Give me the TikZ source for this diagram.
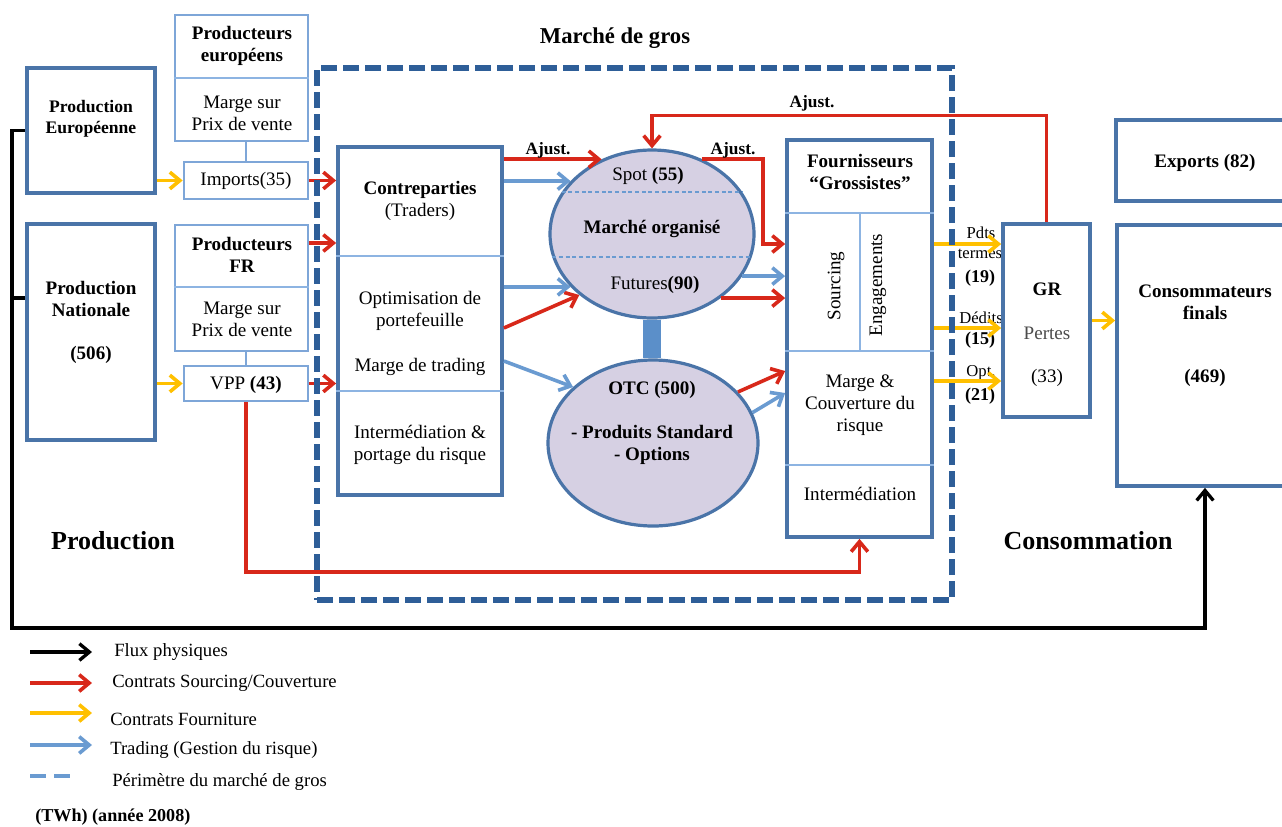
\documentclass[tikz,border=0pt]{standalone}
\usepackage{fontspec}
\setmainfont{Liberation Serif}
\usetikzlibrary{arrows.meta,shapes.geometric,fit,calc}
\newcommand{\fsz}[2]{\fontsize{#1}{#2}\selectfont}
\definecolor{bx}{HTML}{4A74A8}
\definecolor{lbx}{HTML}{7EA6D8}
\definecolor{dv}{HTML}{8DB4E2}
\definecolor{rd}{HTML}{D8281A}
\definecolor{yl}{HTML}{FFC000}
\definecolor{bl}{HTML}{6A9BD1}
\definecolor{pr}{HTML}{2E5E98}
\definecolor{lav}{HTML}{D6D0E3}
\definecolor{barc}{HTML}{5B8FC9}
\begin{document}
\begin{tikzpicture}[x=0.75pt,y=-0.75pt,
  box/.style={draw=bx, line width=2.8pt, fill=white, inner sep=0pt},
  lbox/.style={draw=lbx, line width=2pt, fill=white, inner sep=0pt},
  divl/.style={draw=dv, line width=1.4pt},
  lconn/.style={draw=lbx, line width=1.6pt},
  ell/.style={ellipse, draw=bx, line width=2.4pt, fill=lav, inner sep=0pt},
  perim/.style={draw=pr, line width=3.8pt, dash pattern=on 12pt off 4.5pt, inner sep=0pt},
  dotl/.style={draw=bl, line width=0.9pt, densely dashed},
  tip/.style={-{Straight Barb[length=7.5pt,width=12.5pt]}},
  redarr/.style={draw=rd, line width=2.7pt, tip},
  bluearr/.style={draw=bl, line width=2.7pt, tip},
  yelarr/.style={draw=yl, line width=2.7pt, tip},
  blkarr/.style={draw=black, line width=2.5pt, tip},
  blkline/.style={draw=black, line width=2.5pt},
  tx/.style={font=\fsz{14.3}{16.5}, inner sep=0pt, align=center, text=black},
  txb/.style={font=\fsz{14.3}{16.5}\bfseries, inner sep=0pt, align=center, text=black},
  big/.style={font=\fsz{19.5}{22}\bfseries, inner sep=0pt, text=black},
  lab/.style={font=\fsz{12.5}{14}, inner sep=0pt, text=black},
  leg/.style={font=\fsz{14}{16}, inner sep=0pt, anchor=west, text=black}
]
\useasboundingbox[fill=white] (0,0) rectangle (1282,826);

% ---------- boxes ----------
\node[box, fit={(27,68) (155,193)}] (pe) {};
\node[box, fit={(27,224) (155,440)}] (pn) {};
\node[lbox, fit={(175,15) (308,141)}] (peu) {};
\node[lbox, fit={(184,162) (308,199)}] (imp) {};
\node[lbox, fit={(175,225) (308,351)}] (pfr) {};
\node[lbox, fit={(184,366) (308,401)}] (vpp) {};
\node[box, fit={(338,147) (502,495)}] (cp) {};
\node[box, fit={(787,140) (932,537)}] (four) {};
\node[box, fit={(1116,120) (1294,201)}] (exp) {};
\node[box, fit={(1117,225) (1293,486)}] (cons) {};

% dividers
\draw[divl] (peu.west |- 0,78) -- (peu.east |- 0,78);
\draw[divl] (pfr.west |- 0,287) -- (pfr.east |- 0,287);
\draw[divl] (cp.west |- 0,256) -- (cp.east |- 0,256);
\draw[divl] (cp.west |- 0,391) -- (cp.east |- 0,391);
\draw[divl] (four.west |- 0,213) -- (four.east |- 0,213);
\draw[divl] (four.west |- 0,351) -- (four.east |- 0,351);
\draw[divl] (four.west |- 0,465) -- (four.east |- 0,465);
\draw[divl] (860,213) -- (860,351);

% producer links
\draw[lconn] (imp.north) -- (imp.north |- peu.south);
\draw[lconn] (vpp.north) -- (vpp.north |- pfr.south);

% ---------- ellipses ----------
\node[ell, minimum width=153pt, minimum height=126pt] (e1) at (652,234) {};
\node[ell, minimum width=157.5pt, minimum height=124.5pt] (e2) at (653,443) {};
\draw[draw=barc, line width=13.5pt] (e1.south) -- (e1.south |- e2.north);
\draw[dotl] (e1.155) -- (e1.25);
\draw[dotl] (e1.193) -- (e1.-13);

% ---------- yellow labels (under GR) ----------
\node[lab] (y1) at (981,233) {Pdts};
\node[lab] (y2) at (980,254) {termes};
\node[lab, font=\fsz{13.5}{15}\bfseries] (y3) at (980,278) {(19)};
\node[lab] (y4) at (981,318) {Dédits};
\node[lab, font=\fsz{13.5}{15}\bfseries] (y5) at (980,340) {(15)};
\node[lab] (y6) at (981,373) {Opt.};
\node[lab, font=\fsz{13.5}{15}\bfseries] (y7) at (980,396) {(21)};

\node[box, fit={(1003,224) (1090,417)}] (gr) {};

% ---------- physical flows ----------
\draw[blkarr] (pe.west) -| (12,628) -| (cons.south);
\coordinate (jn) at (12,298);
\draw[blkline] (jn) -- (jn -| pn.west);

% ---------- red ----------
\draw[redarr] (imp.east) -- (imp.east -| cp.west);
\draw[redarr] (pfr.east |- 0,243) -- (cp.west |- 0,243);
\draw[redarr] (vpp.east) -- (vpp.east -| cp.west);
\draw[redarr] (vpp.south) |- ($(four.south)+(0,33)$) -- (four.south);
\draw[redarr] (cp.east |- e1.124) -- (e1.124);
\draw[redarr] (e1.56) -| ($(four.west |- 0,244)+(-22,0)$) -- (four.west |- 0,244);
\draw[redarr] (gr.north) |- ($(e1.north)+(0,-33)$) -- (e1.north);
\draw[redarr] (cp.east |- 0,328) -- (e1.220);
\draw[redarr] (e1.-43) -- (e1.-43 -| four.west);
\draw[redarr] (e2.31) -- (four.west |- 0,371);

% ---------- blue ----------
\draw[bluearr] (cp.east |- e1.147) -- (e1.147);
\draw[bluearr] (cp.east |- e1.213) -- (e1.213);
\draw[bluearr] (cp.east |- 0,361) -- (e2.145);
\draw[bluearr] (e1.-25) -- (e1.-25 -| four.west);
\draw[bluearr] (e2.17) -- (four.west |- 0,393);

% ---------- yellow ----------
\draw[yelarr] (pe.east |- imp.west) -- (imp.west);
\draw[yelarr] (pn.east |- vpp.west) -- (vpp.west);
\draw[yelarr] (four.east |- 0,244) -- (gr.west |- 0,244);
\draw[yelarr] (four.east |- 0,328) -- (gr.west |- 0,328);
\draw[yelarr] (four.east |- 0,381) -- (gr.west |- 0,381);
\draw[yelarr] (gr.east) -- (gr.east -| cons.west);

% ---------- perimeter ----------
\node[perim, fit={(317,68) (952,600)}] (per) {};

% ---------- texts ----------
\node[txb, font=\fsz{17}{19}\bfseries] (tmg) at (615,38) {Marché de gros};
\node[lab, font=\fsz{13}{15}\bfseries] (aj1) at (548,150) {Ajust.};
\node[lab, font=\fsz{13}{15}\bfseries] (aj2) at (733,150) {Ajust.};
\node[lab, font=\fsz{13}{15}\bfseries] (aj3) at (812,103) {Ajust.};
\node[txb, font=\fsz{13.2}{16}\bfseries] (tpe) at (91,119) {Production\\Européenne};
\node[txb] (tpn) at (91,299) {Production\\Nationale};
\node[txb] (tpn2) at (91,355) {(506)};
\node[txb] (tpeu) at (242,46) {Producteurs\\européens};
\node[tx] (tpeu2) at (242,113) {Marge sur\\Prix de vente};
\node[tx] (timp) at (246,181) {Imports(35)};
\node[txb] (tpfr) at (242,255) {Producteurs\\FR};
\node[tx] (tpfr2) at (242,319) {Marge sur\\Prix de vente};
\node[tx] (tvpp) at (246,385) {VPP \textbf{(43)}};
\node[tx] (tcp1) at (420,201) {\textbf{Contreparties}\\(Traders)};
\node[tx] (tcp2) at (420,311) {Optimisation de\\portefeuille};
\node[tx] (tcp3) at (420,367) {Marge de trading};
\node[tx] (tcp4) at (420,445) {Intermédiation \&\\portage du risque};
\node[tx] (te1a) at (648,176) {Spot \textbf{(55)}};
\node[txb] (te1b) at (652,229) {Marché organisé};
\node[tx] (te1c) at (655,285) {Futures\textbf{(90)}};
\node[txb] (te2a) at (652,390) {OTC (500)};
\node[txb] (te2b) at (652,445) {- Produits Standard\\- Options};
\node[txb] (tf1) at (860,172) {Fournisseurs\\“Grossistes”};
\node[tx, rotate=90] (tf2) at (836,286) {Sourcing};
\node[tx, rotate=90] (tf3) at (878,285) {Engagements};
\node[tx] (tf4) at (860,405) {Marge \&\\Couverture du\\risque};
\node[tx] (tf5) at (860,494) {Intermédiation};
\node[txb] (tgr1) at (1047,289) {GR};
\node[tx, text=black!70] (tgr2) at (1047,333) {Pertes};
\node[tx] (tgr3) at (1047,378) {(33)};
\node[txb] (tex) at (1205,163) {Exports (82)};
\node[txb] (tco1) at (1205,302) {Consommateurs\\finals};
\node[txb] (tco2) at (1205,378) {(469)};
\node[big] (tprod) at (113,541) {Production};
\node[big] (tcons) at (1088,541) {Consommation};

% ---------- legend ----------
\coordinate (l1a) at (30,652); \coordinate (l1b) at (92,652);
\coordinate (l2a) at (30,683); \coordinate (l2b) at (92,683);
\coordinate (l3a) at (30,713); \coordinate (l3b) at (92,713);
\coordinate (l4a) at (30,745); \coordinate (l4b) at (92,745);
\coordinate (l5a) at (30,776); \coordinate (l5b) at (74,776);
\draw[blkarr] (l1a) -- (l1b);
\draw[redarr] (l2a) -- (l2b);
\draw[yelarr] (l3a) -- (l3b);
\draw[bluearr] (l4a) -- (l4b);
\draw[draw=bl, line width=2.8pt, dash pattern=on 12pt off 6pt] (l5a) -- (l5b);
\node[leg] (g1) at (114,652) {Flux physiques};
\node[leg] (g2) at (112,683) {Contrats Sourcing/Couverture};
\node[leg] (g3) at (110,719) {Contrats Fourniture};
\node[leg] (g4) at (110,750) {Trading (Gestion du risque)};
\node[leg] (g5) at (112,782) {Périmètre du marché de gros};
\node[leg, font=\fsz{13.6}{16}\bfseries] (g6) at (35,817) {(TWh) (année 2008)};
\end{tikzpicture}
\end{document}
